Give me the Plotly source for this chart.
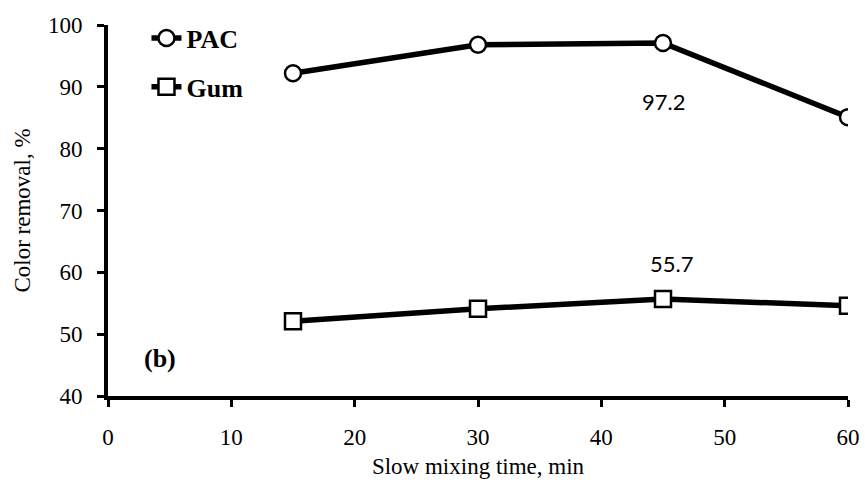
import plotly.graph_objects as go

time_min = [15, 30, 45, 60]
pac_removal = [92.2, 96.8, 97.1, 85.1]
gum_removal = [52.1, 54.1, 55.7, 54.6]
x_ticks = [0, 10, 20, 30, 40, 50, 60]
y_ticks = [40, 50, 60, 70, 80, 90, 100]

serif = "Liberation Serif"
sans = "Lato"

fig = go.Figure()
fig.add_trace(go.Scatter(
    x=time_min, y=pac_removal, name="PAC", mode="lines+markers",
    legendgroup="a",
    line=dict(color="black", width=5.5),
    marker=dict(symbol="circle", size=16, color="white",
                line=dict(color="black", width=2.5)),
))
fig.add_trace(go.Scatter(
    x=time_min, y=gum_removal, name="Gum", mode="lines+markers",
    legendgroup="b",
    line=dict(color="black", width=5.5),
    marker=dict(symbol="square", size=16, color="white",
                line=dict(color="black", width=2.5)),
))

fig.add_annotation(x=45, y=87.7, text="97.2", showarrow=False,
                   font=dict(family=sans, size=22, color="black"))
fig.add_annotation(x=45.7, y=61.5, text="55.7", showarrow=False,
                   font=dict(family=sans, size=22, color="black"))
fig.add_annotation(x=4.2, y=46.1, text="<b>(b)</b>", showarrow=False,
                   font=dict(family=serif, size=26, color="black"))

fig.update_layout(
    width=865, height=493,
    margin=dict(l=108, r=17, t=25, b=97),
    paper_bgcolor="white", plot_bgcolor="white",
    showlegend=True,
    legend=dict(x=0.052, y=1.028, xanchor="left", yanchor="top",
                font=dict(family=serif, size=26, color="black", weight="bold"),
                traceorder="grouped", tracegroupgap=12,
                bgcolor="rgba(0,0,0,0)"),
    font=dict(family=serif, color="black"),
)
fig.update_xaxes(
    range=[0, 60], tickvals=x_ticks, ticks="outside", ticklen=7, tickwidth=3,
    tickcolor="black", showline=True, linewidth=4, linecolor="black",
    showgrid=False, zeroline=False, tickfont=dict(family=serif, size=23),
    ticklabelstandoff=10, automargin=False, ticklabeloverflow="allow",
    title=dict(text="Slow mixing time, min", font=dict(family=serif, size=23), standoff=10),
)
fig.update_yaxes(
    range=[40, 100], tickvals=y_ticks, ticks="outside", ticklen=7, tickwidth=3,
    tickcolor="black", showline=True, linewidth=4, linecolor="black",
    showgrid=False, zeroline=False, tickfont=dict(family=serif, size=23),
    ticklabelstandoff=10, automargin=False, ticklabeloverflow="allow",
    title=dict(text="Color removal, %", font=dict(family=serif, size=23), standoff=12),
)

fig.write_html(
    "out.html",
    config={"displayModeBar": False},
    post_script="document.body.style.margin='0px';document.body.style.overflow='hidden';",
)
